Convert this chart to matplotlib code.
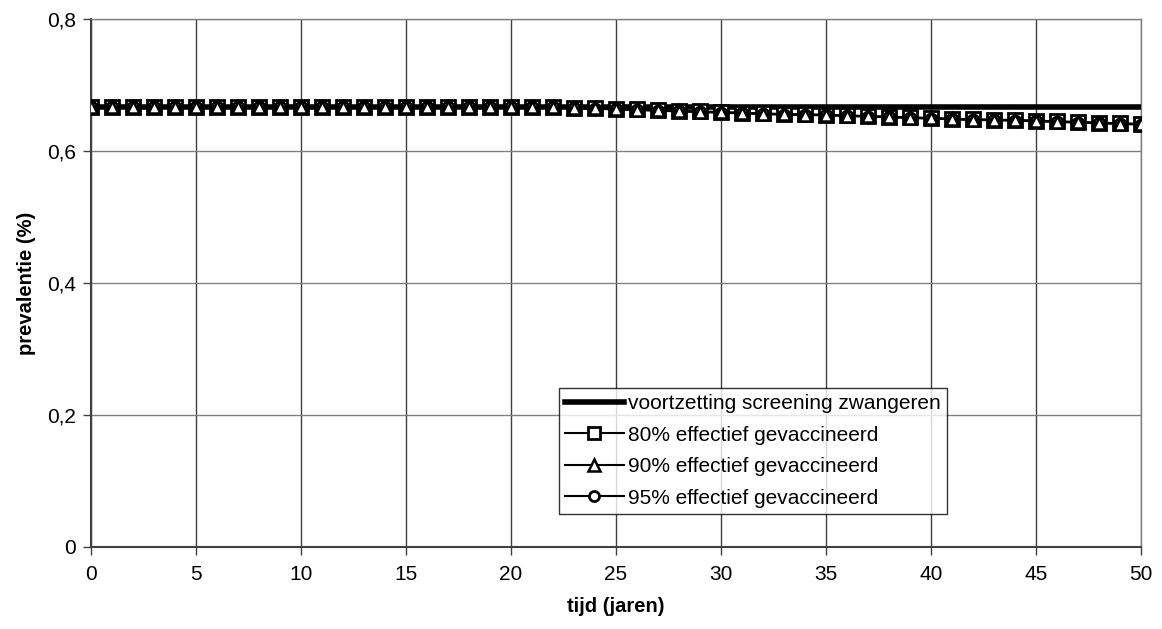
import numpy as np
import matplotlib
matplotlib.use('Agg')
import matplotlib.pyplot as plt

plt.rcParams['font.family'] = ['Liberation Sans', 'DejaVu Sans']

# years 0..50
years = list(range(0, 51))

# prevalence, continuation of screening of pregnant women (flat)
screening = [0.667] * 51

# vaccination scenarios
vacc_80 = [0.667, 0.667, 0.667, 0.667, 0.667, 0.667, 0.667, 0.667, 0.667, 0.667,
           0.667, 0.667, 0.667, 0.667, 0.667, 0.667, 0.667, 0.667, 0.667, 0.667,
           0.667, 0.6665, 0.666, 0.6655, 0.665, 0.664, 0.663, 0.662, 0.661, 0.660,
           0.659, 0.658, 0.657, 0.656, 0.6555, 0.655, 0.654, 0.653, 0.652, 0.651,
           0.650, 0.649, 0.648, 0.6475, 0.647, 0.646, 0.645, 0.644, 0.643, 0.642,
           0.641]
vacc_90 = [0.667, 0.667, 0.667, 0.667, 0.667, 0.667, 0.667, 0.667, 0.667, 0.667,
           0.667, 0.667, 0.667, 0.667, 0.667, 0.667, 0.667, 0.667, 0.667, 0.667,
           0.667, 0.6665, 0.666, 0.665, 0.6645, 0.6635, 0.6625, 0.6615, 0.6605, 0.6595,
           0.6585, 0.6575, 0.6565, 0.6555, 0.655, 0.6545, 0.6535, 0.6525, 0.6515, 0.6505,
           0.6495, 0.6485, 0.6475, 0.647, 0.6465, 0.6455, 0.6445, 0.6435, 0.6425, 0.6415,
           0.6405]
vacc_95 = [0.667, 0.667, 0.667, 0.667, 0.667, 0.667, 0.667, 0.667, 0.667, 0.667,
           0.667, 0.667, 0.667, 0.667, 0.667, 0.667, 0.667, 0.667, 0.667, 0.667,
           0.667, 0.6665, 0.666, 0.665, 0.664, 0.663, 0.662, 0.661, 0.660, 0.659,
           0.658, 0.657, 0.656, 0.655, 0.6545, 0.654, 0.653, 0.652, 0.651, 0.650,
           0.649, 0.648, 0.647, 0.6465, 0.646, 0.645, 0.644, 0.643, 0.642, 0.641,
           0.640]

labels = ['voortzetting screening zwangeren',
          '80% effectief gevaccineerd',
          '90% effectief gevaccineerd',
          '95% effectief gevaccineerd']

fig = plt.figure(figsize=(11.62, 6.29), dpi=100)
ax = fig.add_axes([91 / 1162, 1 - 547 / 629, 1050 / 1162, 528 / 629])

ax.plot(years, screening, color='black', lw=4, label=labels[0], zorder=3)
ax.plot(years, vacc_80, color='black', lw=1.5, marker='s', ms=9.5,
        mfc='white', mec='black', mew=2, label=labels[1], zorder=4)
ax.plot(years, vacc_90, color='black', lw=1.5, marker='^', ms=9,
        mfc='white', mec='black', mew=1.8, label=labels[2], zorder=6)
ax.plot(years, vacc_95, color='black', lw=1.5, marker='o', ms=8,
        mfc='white', mec='black', mew=2, label=labels[3], zorder=5)

ax.set_xlim(0, 50)
ax.set_ylim(0, 0.8)
ax.set_xticks(range(0, 51, 5))
ax.set_yticks([0, 0.2, 0.4, 0.6, 0.8])
ax.set_yticklabels(['0', '0,2', '0,4', '0,6', '0,8'])
ax.tick_params(axis='both', labelsize=15, direction='out', length=6,
               color='#404040', width=1)
ax.tick_params(axis='x', pad=7)
ax.tick_params(axis='y', pad=5)
ax.xaxis.grid(True, color='#404040', lw=1)
ax.yaxis.grid(True, color='#808080', lw=1)
ax.set_axisbelow(True)
for side in ['left', 'bottom']:
    ax.spines[side].set_color('#404040')
    ax.spines[side].set_linewidth(1.5)
for side in ['top', 'right']:
    ax.spines[side].set_color('#808080')
    ax.spines[side].set_linewidth(1)

ax.set_xlabel('tijd (jaren)', fontsize=14.5, fontweight='bold', labelpad=9)
ax.set_ylabel('prevalentie (%)', fontsize=14.5, fontweight='bold', labelpad=8)

leg = ax.legend(loc='upper left', bbox_to_anchor=(468 / 1050, 159 / 528),
                borderaxespad=0, fontsize=15, frameon=True, fancybox=False,
                edgecolor='black', handlelength=2.8, handletextpad=0.2,
                labelspacing=0.6, borderpad=0.3, markerscale=0.9)
leg.get_frame().set_linewidth(1)

fig.savefig('out.png', dpi=100)
